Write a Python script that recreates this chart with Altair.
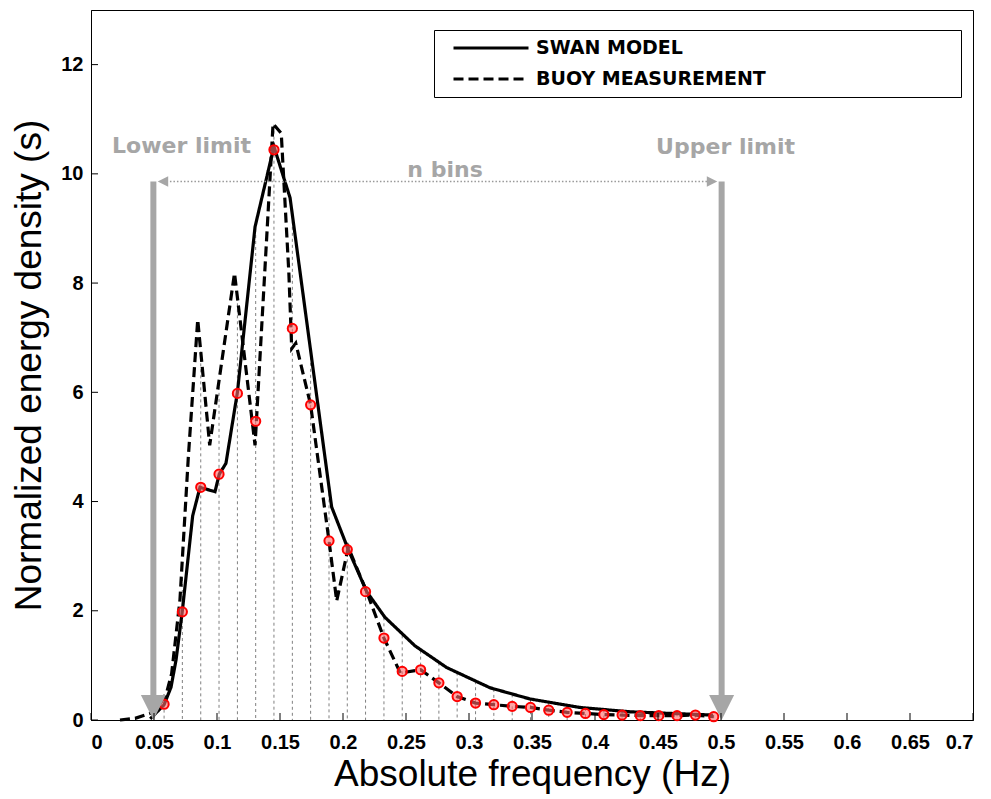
import altair as alt
import pandas as pd

# ---------------- data ----------------
bin_freq = [0.0580, 0.0725, 0.0871, 0.1016, 0.1162, 0.1307, 0.1452, 0.1598, 0.1743, 0.1889,
            0.2034, 0.2179, 0.2325, 0.2470, 0.2616, 0.2761, 0.2906, 0.3052, 0.3197, 0.3343,
            0.3488, 0.3633, 0.3779, 0.3924, 0.4070, 0.4215, 0.4360, 0.4506, 0.4651, 0.4797, 0.4942]
bin_value = [0.29, 1.98, 4.26, 4.50, 5.98, 5.47, 10.44, 7.17, 5.77, 3.28,
             3.12, 2.35, 1.50, 0.89, 0.92, 0.68, 0.43, 0.31, 0.28, 0.25,
             0.23, 0.18, 0.14, 0.12, 0.10, 0.09, 0.08, 0.08, 0.08, 0.09, 0.06]
bin_top = [0.30, 2.60, 6.75, 6.21, 7.74, 9.10, 10.90, 9.25, 6.76, 4.26,
           3.16, 2.35, 1.88, 1.55, 1.27, 1.05, 0.87, 0.71, 0.57, 0.47,
           0.38, 0.33, 0.27, 0.22, 0.19, 0.16, 0.145, 0.13, 0.12, 0.10, 0.09]

swan_freq = [0.047, 0.058, 0.0635, 0.0675, 0.0725, 0.0807, 0.0865, 0.0984, 0.1018, 0.1071,
             0.1162, 0.1302, 0.1452, 0.158, 0.191, 0.2042, 0.2188, 0.2333, 0.257, 0.2823,
             0.3167, 0.3484, 0.388, 0.4278, 0.4937]
swan_value = [0.02, 0.28, 0.60, 1.10, 2.00, 3.74, 4.26, 4.18, 4.50, 4.70,
              6.00, 9.03, 10.50, 9.56, 3.90, 3.12, 2.35, 1.88, 1.36, 0.96,
              0.59, 0.385, 0.23, 0.15, 0.09]

buoy_freq = [0.023, 0.035, 0.047, 0.055, 0.060, 0.064, 0.0706, 0.0772, 0.0847, 0.0942,
             0.1139, 0.1302, 0.1445, 0.151, 0.157, 0.1593, 0.1625, 0.1743, 0.1889, 0.195,
             0.2042, 0.2188, 0.2325, 0.2455, 0.2616, 0.2761, 0.2906, 0.3052, 0.3197, 0.3343,
             0.3488, 0.3633, 0.3779, 0.3924, 0.4070, 0.4215, 0.4360, 0.4506, 0.4651, 0.4797, 0.4942]
buoy_value = [0.00, 0.03, 0.12, 0.30, 0.50, 0.85, 2.20, 4.80, 7.33, 5.03,
              8.18, 5.03, 10.92, 10.74, 8.20, 6.80, 6.90, 5.77, 3.28, 2.18,
              3.16, 2.35, 1.50, 0.86, 0.92, 0.68, 0.43, 0.31, 0.28, 0.25,
              0.23, 0.18, 0.14, 0.12, 0.10, 0.09, 0.08, 0.08, 0.08, 0.09, 0.06]

series_names = ["SWAN MODEL", "BUOY MEASUREMENT"]
x_ticks = [0, 0.05, 0.1, 0.15, 0.2, 0.25, 0.3, 0.35, 0.4, 0.45, 0.5, 0.55, 0.6, 0.65, 0.7]
y_ticks = [0, 2, 4, 6, 8, 10, 12]

limit_freq = [0.0495, 0.5005]
limit_top = 9.86
label_freq = [0.0718, 0.5036, 0.281]
label_value = [10.38, 10.37, 9.94]
label_text = ["Lower limit", "Upper limit", "n bins"]
nbins_from, nbins_to = 0.0571, 0.4929

GRAY = "#a6a6a6"
W, H = 882, 710

# ---------------- tables ----------------
bins = pd.DataFrame({"f": bin_freq, "v": bin_value, "top": bin_top})
curves = pd.concat([
    pd.DataFrame({"f": swan_freq, "v": swan_value, "series": series_names[0],
                  "i": range(len(swan_freq))}),
    pd.DataFrame({"f": buoy_freq, "v": buoy_value, "series": series_names[1],
                  "i": range(len(buoy_freq))}),
])
limits = pd.DataFrame({"f": limit_freq, "top": limit_top, "bot": 0.45, "head": 0.23})
labels = pd.DataFrame({"f": label_freq, "v": label_value, "t": label_text})
nb = pd.DataFrame({"f": [nbins_from], "f2": [nbins_to], "v": [limit_top]})
xt = pd.DataFrame({"t": x_ticks})
yt = pd.DataFrame({"t": y_ticks})

xscale = alt.Scale(domain=[0, 0.7], nice=False, zero=False)
yscale = alt.Scale(domain=[0, 13], nice=False, zero=False)

x_axis = alt.Axis(values=x_ticks, format=".2~f", title="Absolute frequency (Hz)",
                  ticks=False, grid=False, labelPadding=12, titlePadding=4)
y_axis = alt.Axis(values=y_ticks, title="Normalized energy density (s)",
                  ticks=False, grid=False, labelPadding=8, titlePadding=12)

binlines = alt.Chart(bins).mark_rule(color="#808080", strokeDash=[3, 3], strokeWidth=1).encode(
    x=alt.X("f:Q", scale=xscale, axis=x_axis),
    y=alt.Y("top:Q", scale=yscale, axis=y_axis),
    y2=alt.datum(0),
)

lines = alt.Chart(curves).mark_line(color="black", strokeWidth=3.2).encode(
    x=alt.X("f:Q", scale=xscale),
    y=alt.Y("v:Q", scale=yscale),
    order="i:Q",
    strokeDash=alt.StrokeDash(
        "series:N",
        scale=alt.Scale(domain=series_names, range=[[1, 0], [10, 5]]),
        legend=alt.Legend(
            title=".", titleColor="white", titleFontSize=10, titleOrient="right",
            titlePadding=185,
            orient="none", legendX=343, legendY=20,
            symbolType="stroke", symbolSize=5625, symbolStrokeWidth=3,
            symbolStrokeColor="black", clipHeight=22, rowPadding=9,
            symbolOffset=11, labelOffset=6, padding=7,
            labelFont="DejaVu Sans", labelFontWeight="bold", labelFontSize=19,
            labelColor="black", labelLimit=0,
            strokeColor="black", fillColor="white", cornerRadius=0,
        ),
    ),
)

dots = alt.Chart(bins).mark_point(
    shape="circle", size=85, filled=False, stroke="#ff0000", strokeWidth=2,
    fill="#ff6a6a", fillOpacity=0.6, opacity=1,
).encode(x=alt.X("f:Q", scale=xscale), y=alt.Y("v:Q", scale=yscale))

shafts = alt.Chart(limits).mark_rule(color=GRAY, strokeWidth=6).encode(
    x=alt.X("f:Q", scale=xscale), y=alt.Y("top:Q", scale=yscale), y2="bot:Q")
heads = alt.Chart(limits).mark_point(
    shape="M-1,-1L1,-1L0,1Z", size=625, filled=True, color=GRAY, opacity=1,
).encode(x=alt.X("f:Q", scale=xscale), y=alt.Y("head:Q", scale=yscale))

nbline = alt.Chart(nb).mark_rule(color="#999999", strokeDash=[1.5, 2], strokeWidth=1.5).encode(
    x=alt.X("f:Q", scale=xscale), x2="f2:Q", y=alt.Y("v:Q", scale=yscale))
lhead = alt.Chart(nb).mark_point(shape="M1,-1L1,1L-1,0Z", size=110, filled=True,
                                 color=GRAY, opacity=1).encode(
    x=alt.X("f:Q", scale=xscale), y=alt.Y("v:Q", scale=yscale))
rhead = alt.Chart(nb).mark_point(shape="M-1,-1L-1,1L1,0Z", size=110, filled=True,
                                 color=GRAY, opacity=1).encode(
    x=alt.X("f2:Q", scale=xscale), y=alt.Y("v:Q", scale=yscale))

texts = alt.Chart(labels).mark_text(font="DejaVu Sans", fontWeight="bold", fontSize=22,
                                    color=GRAY, baseline="alphabetic", align="center").encode(
    x=alt.X("f:Q", scale=xscale), y=alt.Y("v:Q", scale=yscale), text="t:N")

xticks = alt.Chart(xt).mark_rule(color="black", strokeWidth=1).encode(
    x=alt.X("t:Q", scale=xscale), y=alt.value(H), y2=alt.value(H - 7))
yticks = alt.Chart(yt).mark_rule(color="black", strokeWidth=1).encode(
    y=alt.Y("t:Q", scale=yscale), x=alt.value(0), x2=alt.value(7))

chart = alt.layer(
    binlines, lines, dots, shafts, heads, nbline, lhead, rhead, texts, xticks, yticks
).properties(
    width=W, height=H,
    autosize=alt.AutoSizeParams(type="none"),
    padding={"left": 83, "top": 2, "right": 8, "bottom": 78},
).configure_view(
    stroke="black", strokeWidth=1
).configure_axis(
    domainColor="black", domainWidth=1,
    labelFont="Liberation Sans", labelFontWeight="bold", labelFontSize=20, labelColor="black",
    titleFont="Liberation Sans", titleFontWeight="normal", titleFontSize=37, titleColor="black",
)

chart.save("out.html", embed_options={"renderer": "svg", "actions": False})
